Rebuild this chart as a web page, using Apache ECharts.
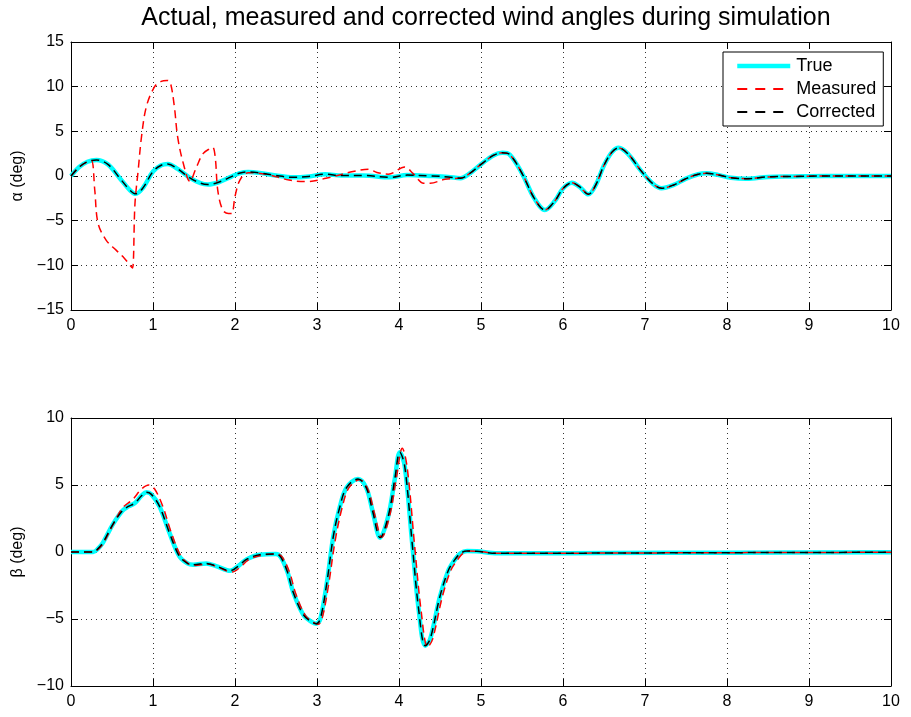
<!DOCTYPE html>
<html>
<head>
<meta charset="utf-8">
<script src="https://cdn.jsdelivr.net/npm/echarts@6/dist/echarts.min.js"></script>
<style>html,body{margin:0;padding:0;background:#fff}#c{width:911px;height:717px}</style>
</head>
<body>
<div id="c"></div>
<script>
// ---- data (time in s, angle in deg) ----
var titleText = 'Actual, measured and corrected wind angles during simulation';
var seriesNames = ['True', 'Measured', 'Corrected'];
var xTicks = [0,1,2,3,4,5,6,7,8,9,10];
var alphaTicks = [-15,-10,-5,0,5,10,15];
var betaTicks = [-10,-5,0,5,10];

var alphaTrue = [[0,0],[0.1,1.0],[0.2,1.6],[0.31,1.8],[0.45,1.3],[0.6,-0.3],[0.72,-1.6],[0.79,-2.0],[0.88,-1.3],[1.0,0.5],[1.1,1.2],[1.18,1.35],[1.3,0.8],[1.45,-0.2],[1.58,-0.8],[1.67,-0.95],[1.8,-0.7],[1.95,-0.1],[2.05,0.3],[2.16,0.45],[2.3,0.35],[2.5,0.05],[2.71,-0.15],[2.9,-0.05],[3.1,0.2],[3.3,0.05],[3.57,0.05],[3.89,-0.15],[4.1,0.1],[4.4,0.0],[4.6,-0.1],[4.75,-0.25],[4.85,0.2],[5.0,1.3],[5.15,2.3],[5.26,2.6],[5.35,2.4],[5.5,0.3],[5.65,-2.5],[5.78,-3.8],[5.9,-2.8],[6.0,-1.4],[6.11,-0.75],[6.2,-1.2],[6.31,-2.05],[6.4,-1.0],[6.5,1.2],[6.6,2.7],[6.68,3.15],[6.8,2.4],[6.95,0.6],[7.1,-0.9],[7.2,-1.38],[7.35,-1.0],[7.5,-0.3],[7.65,0.2],[7.75,0.3],[7.9,0.1],[8.05,-0.2],[8.24,-0.3],[8.5,-0.1],[8.8,-0.05],[9.2,0.0],[9.6,0.0],[10,0.0]];

var alphaMeasured = [[0,0],[0.1,1.0],[0.2,1.6],[0.25,1.7],[0.29,-1.6],[0.33,-5.3],[0.43,-7.2],[0.55,-8.3],[0.65,-9.2],[0.72,-10.0],[0.75,-10.3],[0.78,-3.1],[0.82,0.7],[0.86,4.4],[0.92,7.8],[1.02,10.0],[1.1,10.6],[1.17,10.7],[1.21,10.5],[1.26,7.8],[1.3,4.4],[1.37,1.4],[1.45,-0.6],[1.53,1.0],[1.61,2.5],[1.7,3.1],[1.73,3.2],[1.76,2.0],[1.79,-1.6],[1.85,-3.8],[1.92,-4.2],[1.96,-4.2],[2.0,-2.3],[2.06,-0.45],[2.16,0.37],[2.38,0.2],[2.66,-0.45],[2.87,-0.63],[3.11,-0.26],[3.44,0.5],[3.63,0.75],[3.73,0.4],[3.87,0.2],[4.07,1.0],[4.17,0.3],[4.3,-0.8],[4.38,-0.8],[4.56,-0.37],[4.77,-0.2],[4.85,0.2],[5.0,1.3],[5.15,2.3],[5.26,2.6],[5.35,2.4],[5.5,0.3],[5.65,-2.5],[5.78,-3.8],[5.9,-2.8],[6.0,-1.4],[6.11,-0.75],[6.2,-1.2],[6.31,-2.05],[6.4,-1.0],[6.5,1.2],[6.6,2.7],[6.68,3.15],[6.8,2.4],[6.95,0.6],[7.1,-0.9],[7.2,-1.38],[7.35,-1.0],[7.5,-0.3],[7.65,0.2],[7.75,0.3],[7.9,0.1],[8.05,-0.2],[8.24,-0.3],[8.5,-0.1],[8.8,-0.05],[9.2,0.0],[9.6,0.0],[10,0.0]];

var alphaCorrected = [[0,0],[0.1,1.0],[0.2,1.6],[0.31,1.8],[0.45,1.3],[0.6,-0.3],[0.72,-1.6],[0.79,-2.0],[0.88,-1.3],[1.0,0.5],[1.1,1.2],[1.18,1.35],[1.3,0.8],[1.45,-0.2],[1.58,-0.8],[1.67,-0.95],[1.8,-0.7],[1.95,-0.1],[2.05,0.3],[2.16,0.45],[2.3,0.35],[2.5,0.05],[2.71,-0.15],[2.9,-0.05],[3.1,0.2],[3.3,0.05],[3.57,0.05],[3.89,-0.15],[4.1,0.1],[4.4,0.0],[4.6,-0.1],[4.75,-0.25],[4.85,0.2],[5.0,1.3],[5.15,2.3],[5.26,2.6],[5.35,2.4],[5.5,0.3],[5.65,-2.5],[5.78,-3.8],[5.9,-2.8],[6.0,-1.4],[6.11,-0.75],[6.2,-1.2],[6.31,-2.05],[6.4,-1.0],[6.5,1.2],[6.6,2.7],[6.68,3.15],[6.8,2.4],[6.95,0.6],[7.1,-0.9],[7.2,-1.38],[7.35,-1.0],[7.5,-0.3],[7.65,0.2],[7.75,0.3],[7.9,0.1],[8.05,-0.2],[8.24,-0.3],[8.5,-0.1],[8.8,-0.05],[9.2,0.0],[9.6,0.0],[10,0.0]];

var betaTrue = [[0,0],[0.27,0],[0.33,0.25],[0.39,0.7],[0.51,2.06],[0.63,3.1],[0.7,3.4],[0.78,3.65],[0.86,4.2],[0.92,4.45],[0.98,4.3],[1.08,3.4],[1.2,1.44],[1.32,-0.3],[1.42,-0.85],[1.49,-0.95],[1.65,-0.85],[1.77,-1.05],[1.94,-1.4],[2.05,-1.0],[2.14,-0.55],[2.3,-0.2],[2.5,-0.15],[2.56,-0.4],[2.64,-1.5],[2.71,-3.0],[2.83,-4.65],[2.93,-5.2],[2.99,-5.35],[3.04,-5.0],[3.12,-2.3],[3.2,1.2],[3.28,3.4],[3.36,4.8],[3.5,5.45],[3.6,4.8],[3.68,3.0],[3.77,1.07],[3.87,2.7],[3.95,5.5],[4.01,7.45],[4.07,6.4],[4.16,0.7],[4.24,-4.3],[4.32,-7.0],[4.38,-6.5],[4.5,-3.3],[4.6,-1.4],[4.67,-0.67],[4.75,-0.1],[4.83,0.07],[4.95,0.05],[5.2,-0.1],[5.6,-0.1],[6.5,-0.08],[8,-0.05],[10,-0.02]];

var betaMeasured = [[0,0],[0.27,0],[0.33,0.2],[0.39,0.6],[0.51,2.0],[0.63,3.3],[0.75,3.9],[0.86,4.7],[0.95,5.0],[1.02,4.7],[1.12,3.4],[1.22,1.5],[1.34,-0.3],[1.44,-0.9],[1.51,-1.0],[1.67,-0.9],[1.8,-1.15],[1.96,-1.5],[2.07,-1.1],[2.16,-0.6],[2.32,-0.25],[2.52,-0.15],[2.58,-0.4],[2.67,-1.6],[2.74,-3.1],[2.86,-4.75],[2.96,-5.25],[3.01,-5.4],[3.06,-5.0],[3.14,-2.5],[3.22,0.8],[3.31,3.4],[3.39,4.8],[3.52,5.4],[3.62,4.7],[3.7,2.9],[3.79,1.1],[3.89,2.8],[3.97,5.6],[4.04,7.75],[4.1,6.3],[4.19,0.5],[4.27,-4.4],[4.35,-7.1],[4.41,-6.5],[4.53,-3.3],[4.63,-1.4],[4.7,-0.7],[4.78,-0.1],[4.86,0.07],[4.97,0.05],[5.2,-0.1],[5.6,-0.1],[6.5,-0.08],[8,-0.05],[10,-0.02]];

var betaCorrected = [[0,0],[0.27,0],[0.33,0.25],[0.39,0.7],[0.51,2.06],[0.63,3.1],[0.7,3.4],[0.78,3.65],[0.86,4.2],[0.92,4.45],[0.98,4.3],[1.08,3.4],[1.2,1.44],[1.32,-0.3],[1.42,-0.85],[1.49,-0.95],[1.65,-0.85],[1.77,-1.05],[1.94,-1.4],[2.05,-1.0],[2.14,-0.55],[2.3,-0.2],[2.5,-0.15],[2.56,-0.4],[2.64,-1.5],[2.71,-3.0],[2.83,-4.65],[2.93,-5.2],[2.99,-5.35],[3.04,-5.0],[3.12,-2.3],[3.2,1.2],[3.28,3.4],[3.36,4.8],[3.5,5.45],[3.6,4.8],[3.68,3.0],[3.77,1.07],[3.87,2.7],[3.95,5.5],[4.01,7.45],[4.07,6.4],[4.16,0.7],[4.24,-4.3],[4.32,-7.0],[4.38,-6.5],[4.5,-3.3],[4.6,-1.4],[4.67,-0.67],[4.75,-0.1],[4.83,0.07],[4.95,0.05],[5.2,-0.1],[5.6,-0.1],[6.5,-0.08],[8,-0.05],[10,-0.02]];

// ---- chart ----
var FONT = 'Liberation Sans, Arial, Helvetica, sans-serif';
var chart = echarts.init(document.getElementById('c'), null, {renderer: 'canvas'});

function xAx(gi, pos, labels) {
  return {
    type: 'value', gridIndex: gi, position: pos, min: 0, max: 10, interval: 1,
    axisLine: {show: true, onZero: false, lineStyle: {color: '#000', width: 1}},
    axisTick: {show: true, inside: true, length: 7, lineStyle: {color: '#000'}},
    axisLabel: {show: labels, color: '#000', fontSize: 16, fontFamily: FONT, margin: 8},
    splitLine: {show: labels, lineStyle: {color: '#333', type: [1, 4], width: 1}}
  };
}
function yAx(gi, pos, labels, mn, mx, name) {
  return {
    type: 'value', gridIndex: gi, position: pos, min: mn, max: mx, interval: 5,
    name: labels ? name : '', nameLocation: 'middle', nameRotate: 90, nameGap: 45,
    nameTextStyle: {color: '#000', fontSize: 16, fontFamily: FONT},
    axisLine: {show: true, onZero: false, lineStyle: {color: '#000', width: 1}},
    axisTick: {show: true, inside: true, length: 7, lineStyle: {color: '#000'}},
    axisLabel: {show: labels, color: '#000', fontSize: 16, fontFamily: FONT, margin: 7,
      formatter: function (v) { return v < 0 ? '\u2212' + Math.abs(v) : String(v); }},
    splitLine: {show: labels, lineStyle: {color: '#333', type: [1, 4], width: 1}}
  };
}
var STYLES = {
  'True': {color: '#00ffff', width: 4.5, type: 'solid'},
  'Measured': {color: '#ff0000', width: 1.5, type: [8, 5]},
  'Corrected': {color: '#000000', width: 1.5, type: [8, 5]}
};
function mk(name, data, xi, yi) {
  var st = STYLES[name];
  return {
    name: name, type: 'line', xAxisIndex: xi, yAxisIndex: yi, data: data,
    smooth: 0.35, symbol: 'none', showSymbol: false, animation: false,
    lineStyle: st, itemStyle: {color: st.color}, z: name === 'True' ? 2 : (name === 'Measured' ? 3 : 4)
  };
}

var option = {
  backgroundColor: '#fff',
  animation: false,
  graphic: [{
    type: 'text', x: 486, y: 18, z: 10,
    style: {text: titleText, fill: '#000', font: '25px ' + FONT, align: 'center', verticalAlign: 'middle', textAlign: 'center', textVerticalAlign: 'middle'}
  }],
  legend: {
    data: seriesNames.map(function (n) {
      var s = STYLES[n];
      return {name: n, lineStyle: {width: s.width === 4.5 ? 4.5 : 1.8, type: s.type === 'solid' ? 'solid' : [10, 8], color: s.color}};
    }),
    orient: 'vertical', left: 723, top: 52,
    itemWidth: 53, itemHeight: 14, itemGap: 5,
    backgroundColor: '#fff', borderColor: '#000', borderWidth: 1, borderRadius: 0,
    padding: [5, 7, 5, 12],
    itemStyle: {opacity: 0},
    textStyle: {color: '#000', fontSize: 18, fontFamily: FONT, padding: [0, 0, 0, 1]}
  },
  grid: [
    {left: 71, width: 820, top: 42, height: 268},
    {left: 71, width: 820, top: 418, height: 268}
  ],
  xAxis: [xAx(0, 'bottom', true), xAx(0, 'top', false), xAx(1, 'bottom', true), xAx(1, 'top', false)],
  yAxis: [
    yAx(0, 'left', true, -15, 15, '\u03b1 (deg)'), yAx(0, 'right', false, -15, 15, ''),
    yAx(1, 'left', true, -10, 10, '\u03b2 (deg)'), yAx(1, 'right', false, -10, 10, '')
  ],
  series: [
    mk('True', alphaTrue, 0, 0), mk('Measured', alphaMeasured, 0, 0), mk('Corrected', alphaCorrected, 0, 0),
    mk('True', betaTrue, 2, 2), mk('Measured', betaMeasured, 2, 2), mk('Corrected', betaCorrected, 2, 2)
  ]
};
chart.setOption(option);
</script>
</body>
</html>
